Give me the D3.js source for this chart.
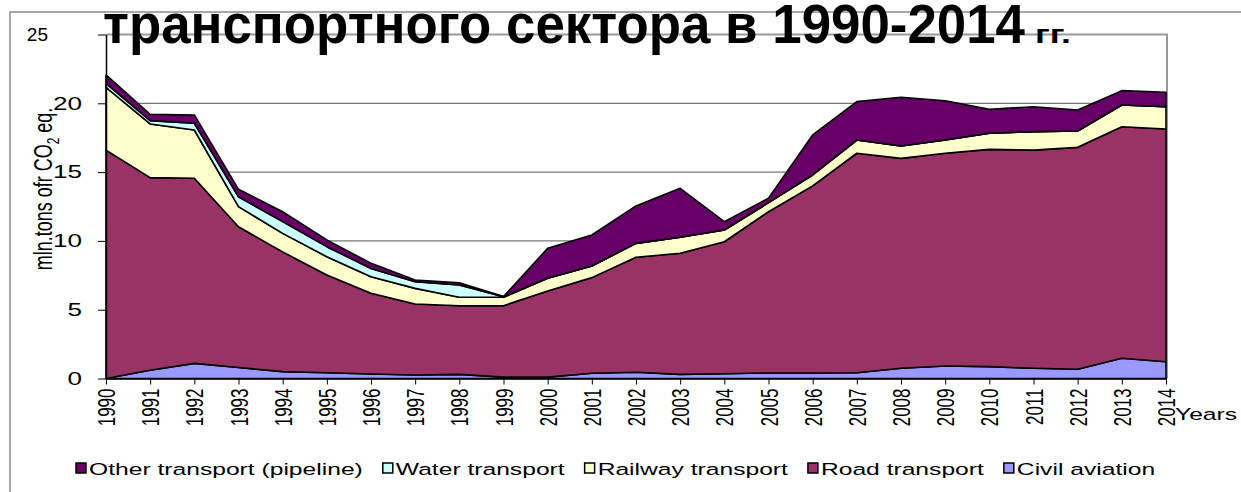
<!DOCTYPE html>
<html>
<head>
<meta charset="utf-8">
<script src="https://cdn.jsdelivr.net/npm/d3@7"></script>
<style>
  body { margin: 0; background: #fff; }
  text { font-family: "Liberation Sans", Arial, sans-serif; }
</style>
</head>
<body>
<div id="chart"></div>
<script>
// data (mln. tons CO2 eq.)
var years = [1990, 1991, 1992, 1993, 1994, 1995, 1996, 1997, 1998, 1999, 2000, 2001, 2002,
  2003, 2004, 2005, 2006, 2007, 2008, 2009, 2010, 2011, 2012, 2013, 2014];
var civilAviation = [0, 0.6, 1.1, 0.8, 0.5, 0.42, 0.33, 0.25, 0.3, 0.1, 0.1, 0.38, 0.45,
  0.3, 0.35, 0.4, 0.4, 0.42, 0.74, 0.91, 0.86, 0.74, 0.67, 1.47, 1.22];
var roadTransport = [16.6, 14.0, 13.45, 10.23, 8.7, 7.1, 5.86, 5.16, 4.99, 5.19, 6.26, 6.95, 8.36,
  8.8, 9.59, 11.72, 13.6, 15.95, 15.26, 15.46, 15.79, 15.86, 16.13, 16.83, 16.91];
var railwayTransport = [4.56, 3.9, 3.51, 1.46, 1.35, 1.33, 1.21, 1.14, 0.61, 0.61, 0.92, 0.85, 1.01,
  1.16, 0.85, 0.66, 0.79, 0.96, 0.9, 0.96, 1.17, 1.34, 1.19, 1.58, 1.62];
var waterTransport = [0.29, 0.24, 0.49, 0.71, 0.85, 0.73, 0.6, 0.48, 0.9, 0.05, 0, 0, 0,
  0, 0, 0, 0, 0, 0, 0, 0, 0, 0, 0, 0];
var otherTransport = [0.61, 0.46, 0.6, 0.55, 0.72, 0.49, 0.37, 0.13, 0.16, 0, 2.18, 2.25, 2.72,
  3.56, 0.61, 0.32, 2.91, 2.79, 3.54, 2.86, 1.74, 1.81, 1.52, 1.04, 1.05];
var yTicks = [0, 5, 10, 15, 20, 25];

var seriesKeys = ["civil", "road", "rail", "water", "other"];
var seriesNames = {
  other: "Other transport (pipeline)", water: "Water transport", rail: "Railway transport",
  road: "Road transport", civil: "Civil aviation"
};
var colors = { other: "#660066", water: "#ccffff", rail: "#ffffcc", road: "#993366", civil: "#9999ff" };
var legendOrder = ["other", "water", "rail", "road", "civil"];

var table = years.map(function (y, i) {
  return { year: y, civil: civilAviation[i], road: roadTransport[i], rail: railwayTransport[i],
    water: waterTransport[i], other: otherTransport[i] };
});

var W = 1241, H = 492;
var SX = 1.45; // the source picture is stretched horizontally

var svg = d3.select("#chart").append("svg")
  .attr("width", W).attr("height", H);

// outer frame
svg.append("path")
  .attr("d", "M10," + H + "V12H" + W)
  .attr("fill", "none").attr("stroke", "#8c8c8c").attr("stroke-width", 1.5);

var x = d3.scaleLinear().domain([1990, 2014]).range([106, 1166]);
var y = d3.scaleLinear().domain([0, 25]).range([378.5, 34.5]);

// gridlines
svg.append("g").selectAll("line")
  .data(yTicks.filter(function (d) { return d > 0 && d < 25; }))
  .enter().append("line")
  .attr("x1", x(1990)).attr("x2", x(2014))
  .attr("y1", function (d) { return y(d); })
  .attr("y2", function (d) { return y(d); })
  .attr("stroke", "#555").attr("stroke-width", 1);

// plot top / right border
svg.append("path")
  .attr("d", "M" + x(1990) + "," + y(25) + "H" + (x(2014) + 1) + "V" + y(0))
  .attr("fill", "none").attr("stroke", "#999").attr("stroke-width", 2);

// stacked areas
var stack = d3.stack().keys(seriesKeys);
var layers = stack(table);
var area = d3.area()
  .x(function (d) { return x(d.data.year); })
  .y0(function (d) { return y(d[0]); })
  .y1(function (d) { return y(d[1]); });

svg.append("g").selectAll("path")
  .data(layers)
  .enter().append("path")
  .attr("d", area)
  .attr("fill", function (d) { return colors[d.key]; })
  .attr("stroke", "#000")
  .attr("stroke-width", 1.6)
  .attr("stroke-linejoin", "round");

// Y axis
var yAxis = svg.append("g")
  .attr("transform", "translate(" + x(1990) + ",0)")
  .call(d3.axisLeft(y).tickValues(yTicks).tickSize(8).tickSizeOuter(0));
yAxis.select(".domain").attr("stroke", "#000").attr("stroke-width", 1.5);
yAxis.selectAll("line").attr("stroke", "#000");
yAxis.selectAll("text")
  .attr("x", -16.5)
  .attr("transform", "scale(" + SX + ",1)")
  .style("font-size", "18px")
  .attr("fill", "#000");
// the top label sits further left and unstretched in the source
yAxis.selectAll("text").filter(function (d) { return d === 25; })
  .attr("x", -58).attr("transform", null).style("font-size", "19px");

// X axis
var xAxis = svg.append("g")
  .attr("transform", "translate(0," + y(0) + ")")
  .call(d3.axisBottom(x).tickValues(years).tickSize(6).tickSizeOuter(0).tickFormat(d3.format("d")));
xAxis.select(".domain").attr("stroke", "#000").attr("stroke-width", 1.5);
xAxis.selectAll("line").attr("stroke", "#000");
xAxis.selectAll("text")
  .attr("x", 0).attr("y", 0).attr("dy", "0.35em")
  .attr("text-anchor", "end")
  .attr("transform", "translate(0,10) scale(" + SX + ",1) rotate(-90)")
  .style("font-size", "17px")
  .attr("fill", "#000");

svg.append("text")
  .attr("transform", "translate(1175,420) scale(" + SX + ",1)")
  .style("font-size", "17px")
  .text("Years");

// Y axis title
var yt = svg.append("text")
  .attr("transform", "translate(52,189) scale(" + SX + ",1) rotate(-90)")
  .attr("text-anchor", "middle")
  .style("font-size", "18px");
yt.append("tspan").text("mln.tons ofr CO");
yt.append("tspan").attr("dy", 5).style("font-size", "12px").text("2");
yt.append("tspan").attr("dy", -5).text(" eq.");

// title
svg.append("text")
  .attr("x", 103).attr("y", 43)
  .attr("textLength", 922).attr("lengthAdjust", "spacingAndGlyphs")
  .style("font-size", "56px").style("font-weight", "bold")
  .text("транспортного сектора в 1990-2014");
svg.append("text")
  .attr("x", 1035).attr("y", 43)
  .attr("textLength", 36).attr("lengthAdjust", "spacingAndGlyphs")
  .style("font-size", "25px").style("font-weight", "bold")
  .text("гг.");

// legend
var lx = 76;
legendOrder.forEach(function (k) {
  var g = svg.append("g");
  g.append("rect")
    .attr("x", lx).attr("y", 463).attr("width", 10).attr("height", 10)
    .attr("fill", colors[k]).attr("stroke", "#000").attr("stroke-width", 1.5);
  var t = g.append("text")
    .attr("transform", "translate(" + (lx + 13) + ",475) scale(" + SX + ",1)")
    .style("font-size", "17px")
    .text(seriesNames[k]);
  lx += 13 + t.node().getComputedTextLength() * SX + 20;
});
</script>
</body>
</html>
